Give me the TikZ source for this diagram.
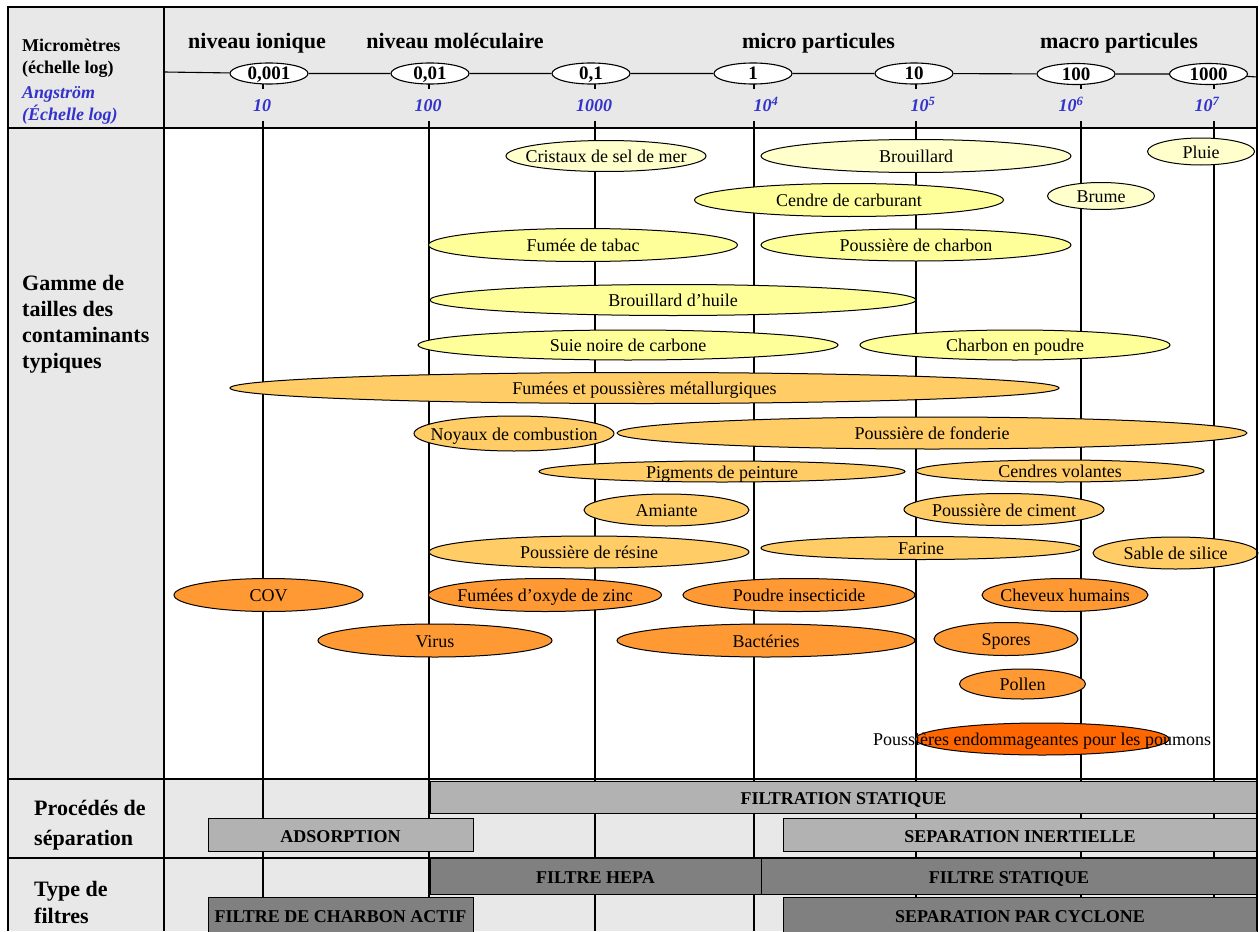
\documentclass[tikz,border=0pt]{standalone}
\usepackage{fontspec}
\setmainfont{Liberation Serif}
\usetikzlibrary{shapes.geometric}
\definecolor{bg}{RGB}{232,232,232}
\definecolor{ylight}{RGB}{255,255,204}
\definecolor{ymid}{RGB}{255,255,153}
\definecolor{yorange}{RGB}{255,204,102}
\definecolor{orangeA}{RGB}{255,153,51}
\definecolor{orangeB}{RGB}{255,102,0}
\definecolor{barlight}{RGB}{178,178,178}
\definecolor{bardark}{RGB}{128,128,128}
\definecolor{angblue}{RGB}{51,51,204}
\newcommand\Blob[6]{%
  \node[blob, fill=#1, minimum width=#4pt, minimum height=#5pt] (#2) at (#3) {};
  \node[lbl] (#2-t) at (#2) {#6};}
\begin{document}
\begin{tikzpicture}[x=1pt,y=-1pt,
  blob/.style={ellipse, draw=black, line width=1pt, inner sep=0pt},
  lbl/.style={font=\fontsize{18}{20}\selectfont, inner sep=0pt, text height=13pt, text depth=0pt},
  scaleell/.style={ellipse, draw=black, fill=white, line width=1.1pt, minimum width=78pt, minimum height=21pt, inner sep=0pt, font=\bfseries\fontsize{19}{20}\selectfont, text height=13pt, text depth=0pt},
  angnum/.style={font=\bfseries\itshape\fontsize{18}{20}\selectfont, text=angblue, inner sep=0pt, anchor=base},
  hdr/.style={font=\bfseries\fontsize{22}{24}\selectfont, inner sep=0pt, anchor=base},
  side/.style={font=\bfseries\fontsize{22}{24}\selectfont, inner sep=0pt, anchor=base west},
  unit/.style={font=\bfseries\fontsize{18}{20}\selectfont, inner sep=0pt, anchor=base west},
  aunit/.style={font=\bfseries\itshape\fontsize{18}{20}\selectfont, text=angblue, inner sep=0pt, anchor=base west},
  bar/.style={draw=black, line width=0.9pt, inner sep=0pt, font=\bfseries\fontsize{18}{20}\selectfont, text height=15pt, text depth=0pt},
  grid/.style={line width=1.2pt, black},
  frame/.style={line width=2pt, black}]
\useasboundingbox (0,0) rectangle (1260,931);
% backgrounds
\fill[bg] (8,7) rectangle (1257,931);
\fill[white] (164,128) rectangle (1257,779);
% grid lines
\foreach \x in {263,429,595,754,916,1081,1214} {
  \draw[grid] (\x,128) -- (\x,931);
  \draw[grid] (\x,83) -- (\x,89);
  \draw[grid] (\x,121) -- (\x,128);
}
% scale
\coordinate (sL) at (164,72);
\coordinate (sR) at (1257,77);
\node[scaleell] (u0001) at (269,73.5) {0,001};
\node[scaleell] (u001) at (430,73.5) {0,01};
\node[scaleell] (u01) at (591,73.5) {0,1};
\node[scaleell] (u1) at (753,73.5) {1};
\node[scaleell] (u10) at (914,73.5) {10};
\node[scaleell] (u100) at (1076,74) {100};
\node[scaleell] (u1000) at (1208.5,74) {1000};
\draw[line width=1.1pt] (sL) -- (u0001) -- (u001) -- (u01) -- (u1) -- (u10) -- (u100) -- (u1000) -- (sR);
% header labels
\node[hdr] (h1) at (257,49) {niveau ionique};
\node[hdr] (h2) at (455,49) {niveau moléculaire};
\node[hdr] (h3) at (818.5,49) {micro particules};
\node[hdr] (h4) at (1119,49) {macro particules};
% angstrom numbers
\node[angnum] (a1) at (262,112) {10};
\node[angnum] (a2) at (428,112) {100};
\node[angnum] (a3) at (594,112) {1000};
\node[angnum] (a4) at (766,112) {10\textsuperscript{4}};
\node[angnum] (a5) at (923,112) {10\textsuperscript{5}};
\node[angnum] (a6) at (1071,112) {10\textsuperscript{6}};
\node[angnum] (a7) at (1207,112) {10\textsuperscript{7}};
% left column
\node[unit] (m1) at (22,52) {Micromètres};
\node[unit] (m2) at (22,74) {(échelle log)};
\node[aunit] (m3) at (22,99) {Angström};
\node[aunit] (m4) at (22,121) {(Échelle log)};
\node[side] (g1) at (22,290) {Gamme de};
\node[side] (g2) at (22,316) {tailles des};
\node[side] (g3) at (22,342) {contaminants};
\node[side] (g4) at (22,368) {typiques};
\node[side] (p1) at (34,815) {Procédés de};
\node[side] (p2) at (34,845) {séparation};
\node[side] (t1) at (34,896) {Type de};
\node[side] (t2) at (34,923) {filtres};
% contaminants
\Blob{ylight}{cris}{606,156}{200}{31}{Cristaux de sel de mer}
\Blob{ylight}{brou}{916,156}{310}{33}{Brouillard}
\Blob{ylight}{pluie}{1201,151.5}{107}{27}{Pluie}
\Blob{ylight}{brume}{1101,196}{107}{27}{Brume}
\Blob{ymid}{cendre}{849,200}{309}{33}{Cendre de carburant}
\Blob{ymid}{tabac}{583,245}{309}{33}{Fumée de tabac}
\Blob{ymid}{pcharb}{916,245}{310}{32}{Poussière de charbon}
\Blob{ymid}{huile}{673,300}{486}{31}{Brouillard d’huile}
\Blob{ymid}{suie}{628,345}{420}{30}{Suie noire de carbone}
\Blob{ymid}{cpoud}{1015,345}{310}{30}{Charbon en poudre}
\Blob{yorange}{metal}{644.5,388}{829}{31}{Fumées et poussières métallurgiques}
\Blob{yorange}{noyaux}{514,433.5}{200}{35}{Noyaux de combustion}
\Blob{yorange}{fond}{932,433}{630}{32}{Poussière de fonderie}
\Blob{yorange}{pigm}{722,471.5}{366}{21}{Pigments de peinture}
\Blob{yorange}{cvol}{1060,471}{288}{22}{Cendres volantes}
\Blob{yorange}{amia}{666.5,510}{165}{32}{Amiante}
\Blob{yorange}{cim}{1004,509.5}{200}{32}{Poussière de ciment}
\Blob{yorange}{resine}{589,552}{320}{32}{Poussière de résine}
\Blob{yorange}{farine}{921,548}{320}{23}{Farine}
\Blob{yorange}{sable}{1175.5,553}{165}{32}{Sable de silice}
\Blob{orangeA}{cov}{268.5,595}{189}{33}{COV}
\Blob{orangeA}{zinc}{545,595}{233}{33}{Fumées d’oxyde de zinc}
\Blob{orangeA}{insect}{799,595}{232}{33}{Poudre insecticide}
\Blob{orangeA}{chev}{1065,595}{166}{33}{Cheveux humains}
\Blob{orangeA}{virus}{435,640.5}{234}{33}{Virus}
\Blob{orangeA}{bact}{766,640.5}{298}{33}{Bactéries}
\Blob{orangeA}{spores}{1006,639}{144}{33}{Spores}
\Blob{orangeA}{pollen}{1022.5,684}{126}{30}{Pollen}
\Blob{orangeB}{poum}{1042,739}{254}{32}{Poussières endommageantes pour les poumons}
% separation processes
\node[bar, fill=barlight, minimum width=827pt, minimum height=32pt] (fstat) at (843.5,797) {FILTRATION STATIQUE};
\node[bar, fill=barlight, minimum width=265pt, minimum height=33pt] (adsor) at (340.5,834.5) {ADSORPTION};
\node[bar, fill=barlight, minimum width=474pt, minimum height=33pt] (inert) at (1020,834.5) {SEPARATION INERTIELLE};
% filter types
\node[bar, fill=bardark, minimum width=331pt, minimum height=36pt] (hepa) at (595.5,876) {FILTRE HEPA};
\node[bar, fill=bardark, minimum width=496pt, minimum height=36pt] (fsta) at (1009,876) {FILTRE STATIQUE};
\node[bar, fill=bardark, minimum width=265pt, minimum height=36pt] (charb) at (340.5,915) {FILTRE DE CHARBON ACTIF};
\node[bar, fill=bardark, minimum width=474pt, minimum height=36pt] (cycl) at (1020,915) {SEPARATION PAR CYCLONE};
% frame
\draw[frame] (8,931) -- (8,7) -- (1257,7) -- (1257,931);
\draw[frame] (164,7) -- (164,931);
\draw[frame] (8,128) -- (1257,128);
\draw[frame] (8,779) -- (1257,779);
\draw[frame] (8,858) -- (1257,858);
\end{tikzpicture}
\end{document}
